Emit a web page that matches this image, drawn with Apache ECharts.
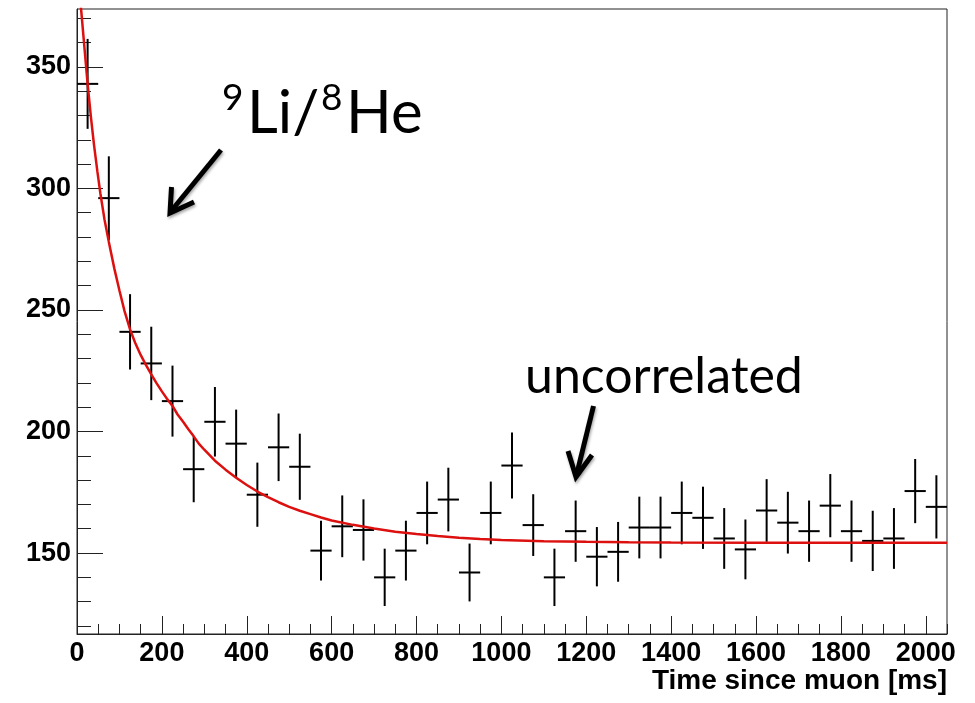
<!DOCTYPE html>
<html>
<head>
<meta charset="utf-8">
<script src="https://cdn.jsdelivr.net/npm/echarts@6/dist/echarts.min.js"></script>
<style>
html,body{margin:0;padding:0;background:#fff;}
#chart{width:975px;height:703px;}
</style>
</head>
<body>
<div id="chart"></div>
<script>
// ---- data ----
const binCenters = [25,75,125,175,225,275,325,375,425,475,525,575,625,675,725,775,825,875,925,975,1025,1075,1125,1175,1225,1275,1325,1375,1425,1475,1525,1575,1625,1675,1725,1775,1825,1875,1925,1975,2025];
const counts = [343,296,241,228,212.5,184.5,204,195,174,193.5,185.5,151,161,159.5,140,151,166.5,172,142,166.5,186,161.5,140,159,148.5,150.5,160.5,160.5,166.5,164.5,156,151.5,167.5,162.5,159,169.5,159,155,156,175.5,169];
const errors = [18.5,17.2,15.5,15.1,14.6,13.6,14.3,14.0,13.2,13.9,13.6,12.3,12.7,12.6,11.8,12.3,12.9,13.1,11.9,12.9,13.6,12.7,11.8,12.6,12.2,12.3,12.7,12.7,12.9,12.8,12.5,12.3,12.9,12.7,12.6,13.0,12.6,12.4,12.5,13.2,13.0];
const binWidth = 50;

const fitT = [0,5,10,18,25,33,40,48,55,65,75,88,100,112,125,137,150,162,175,187,200,212,225,237,250,262,275,287,300,325,350,375,400,425,450,475,500,525,550,575,600,650,700,750,800,850,900,950,1000,1100,1200,1300,1400,1600,1800,2050];
const fitV = [395,384,373,357,343,329,318,307,298,287,278,267,258,249.5,242,236.5,231.5,227.5,223.5,220,216.5,213.5,210.5,207,204,201,198,195,192.5,188,184.3,181,178,175.3,173,170.9,169,167.4,166,164.6,163.4,161.6,160.1,158.8,157.8,157,156.3,155.8,155.4,154.9,154.6,154.4,154.3,154.2,154.2,154.2];

const xMajorTicks = [0,200,400,600,800,1000,1200,1400,1600,1800,2000];
const xMinorTicks = [];
for (let v = 0; v <= 2050; v += 50) xMinorTicks.push(v);
const yMajorTicks = [150,200,250,300,350];
const yMinorTicks = [120,130,140,160,170,180,190,210,220,230,240,260,270,280,290,310,320,330,340,360,370];

const xTitle = 'Time since muon [ms]';
const annoLeft = {sup1:'9', main1:'Li/', sup2:'8', main2:'He'};
const annoRight = 'uncorrelated';

// ---- chart ----
const chart = echarts.init(document.getElementById('chart'), null, {renderer:'canvas'});
const axisFont = {fontFamily:'Liberation Sans, Arial, sans-serif', fontWeight:'bold', fontSize:27, color:'#000'};
const annoFont = 'Lato, "Open Sans", sans-serif';
const plain = v => String(v);

const option = {
  backgroundColor:'#fff',
  animation:false,
  grid:{left:77, right:28, top:9, bottom:69, show:true, borderColor:'#222', borderWidth:1, backgroundColor:'transparent', containLabel:false},
  xAxis:[
    {type:'value', min:0, max:2050, position:'bottom',
     name:xTitle, nameLocation:'end', nameGap:0,
     nameTextStyle:Object.assign({}, axisFont, {fontSize:28, align:'right', verticalAlign:'top', padding:[33,0,0,0]}),
     axisLine:{show:true, lineStyle:{color:'#222', width:1}},
     axisTick:{show:true, inside:true, length:18, customValues:xMajorTicks, lineStyle:{color:'#222', width:1}},
     axisLabel:Object.assign({show:true, margin:6, customValues:xMajorTicks, formatter:plain}, axisFont),
     splitLine:{show:false}},
    {type:'value', min:0, max:2050, position:'bottom',
     axisLine:{show:false},
     axisTick:{show:true, inside:true, length:10, customValues:xMinorTicks, lineStyle:{color:'#222', width:1}},
     axisLabel:{show:false},
     splitLine:{show:false}}
  ],
  yAxis:[
    {type:'value', min:116.7, max:373.8, position:'left',
     axisLine:{show:true, lineStyle:{color:'#222', width:1}},
     axisTick:{show:true, inside:true, length:26, customValues:yMajorTicks, lineStyle:{color:'#222', width:1}},
     axisLabel:Object.assign({show:true, margin:6, customValues:yMajorTicks, formatter:plain}, axisFont),
     splitLine:{show:false}},
    {type:'value', min:116.7, max:373.8, position:'left',
     axisLine:{show:false},
     axisTick:{show:true, inside:true, length:14, customValues:yMinorTicks, lineStyle:{color:'#222', width:1}},
     axisLabel:{show:false},
     splitLine:{show:false}}
  ],
  series:[
    {type:'custom', name:'data', xAxisIndex:0, yAxisIndex:0, z:2,
     data: binCenters.map((x,i)=>[x, counts[i], errors[i]]),
     renderItem:function(params, api){
       const x = api.value(0), y = api.value(1), e = api.value(2);
       const pL = api.coord([x - binWidth/2, y]);
       const pR = api.coord([x + binWidth/2, y]);
       const pT = api.coord([x, y + e]);
       const pB = api.coord([x, y - e]);
       const st = {stroke:'#000', lineWidth:2};
       return {type:'group', children:[
         {type:'line', shape:{x1:pL[0], y1:pL[1], x2:pR[0], y2:pR[1]}, style:st},
         {type:'line', shape:{x1:pT[0], y1:pT[1], x2:pB[0], y2:pB[1]}, style:st}
       ]};
     }},
    {type:'line', name:'fit', xAxisIndex:0, yAxisIndex:0, z:3,
     data: fitT.map((t,i)=>[t, fitV[i]]),
     smooth:false, showSymbol:false, symbol:'none', clip:true,
     lineStyle:{color:'#dd1010', width:2.5}}
  ],
  graphic:[
    {type:'text', left:222, top:80, style:{text:annoLeft.sup1, fontFamily:annoFont, fontSize:37, fill:'#000'}},
    {type:'text', left:247, top:84, style:{text:annoLeft.main1, fontFamily:annoFont, fontSize:60, fill:'#000'}},
    {type:'text', left:321, top:80, style:{text:annoLeft.sup2, fontFamily:annoFont, fontSize:37, fill:'#000'}},
    {type:'text', left:346, top:84, style:{text:annoLeft.main2, fontFamily:annoFont, fontSize:60, fill:'#000'}},
    {type:'text', left:525, top:352, style:{text:annoRight, fontFamily:annoFont, fontSize:50, fill:'#000'}},
    {type:'group', silent:true, children:[
      {type:'line', shape:{x1:221, y1:150, x2:172, y2:210}, style:{stroke:'#000', lineWidth:5, shadowBlur:3, shadowColor:'rgba(0,0,0,0.35)', shadowOffsetX:1, shadowOffsetY:2}},
      {type:'polyline', shape:{points:[[171.5,187],[170,213],[194,202]]}, style:{stroke:'#000', fill:null, lineWidth:5, lineJoin:'miter', shadowBlur:3, shadowColor:'rgba(0,0,0,0.35)', shadowOffsetX:1, shadowOffsetY:2}}
    ]},
    {type:'group', silent:true, children:[
      {type:'line', shape:{x1:593.5, y1:406, x2:577, y2:473}, style:{stroke:'#000', lineWidth:5, shadowBlur:3, shadowColor:'rgba(0,0,0,0.35)', shadowOffsetX:1, shadowOffsetY:2}},
      {type:'polyline', shape:{points:[[568,451],[576,477],[592,455]]}, style:{stroke:'#000', fill:null, lineWidth:5, lineJoin:'miter', shadowBlur:3, shadowColor:'rgba(0,0,0,0.35)', shadowOffsetX:1, shadowOffsetY:2}}
    ]}
  ]
};
chart.setOption(option);
</script>
</body>
</html>
